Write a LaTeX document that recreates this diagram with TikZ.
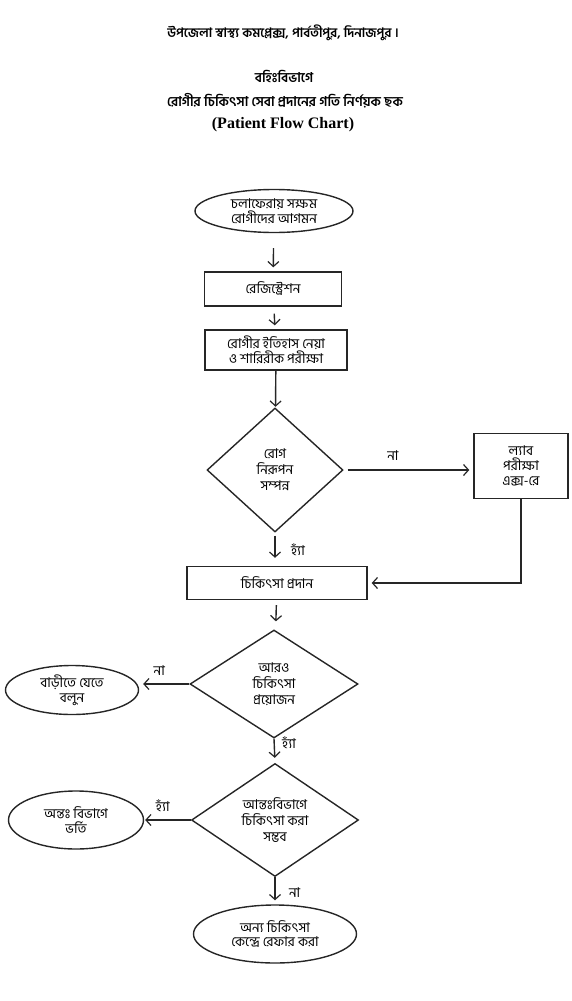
\documentclass[tikz,border=0pt]{standalone}
\usepackage{fontspec}
\setmainfont{Liberation Serif}
\newfontfamily\bn[Script=Bengali]{Hind Siliguri}
\usetikzlibrary{shapes.geometric,arrows.meta}

\tikzset{
    line/.style={line width=1.4pt, draw=black!85},
    arr/.style={line, -{Straight Barb[length=5pt, width=11pt, line width=1.2pt]}, shorten >=4pt},
    term/.style={ellipse, line, inner sep=0pt, align=center, font=\bn\fontsize{13.5}{14.5}\selectfont},
    stepbox/.style={rectangle, line, inner sep=0pt, align=center, font=\bn\fontsize{13.5}{15}\selectfont},
    decide/.style={diamond, line, inner sep=0pt, align=center, font=\bn\fontsize{13.5}{16}\selectfont},
    lbl/.style={font=\bn\fontsize{13.5}{14.5}\selectfont},
}

\begin{document}
\begin{tikzpicture}[x=1pt, y=-1pt]

    \useasboundingbox (0,0) rectangle (571,1001);

    %% Heading
    \node[font=\bn\bfseries\fontsize{13}{15}\selectfont] (title) at (283,33) {উপজেলা স্বাস্থ্য কমপ্লেক্স, পার্বতীপুর, দিনাজপুর ।};
    \node[font=\bn\bfseries\fontsize{13.5}{15}\selectfont] (dept) at (284,76) {বহিঃবিভাগে};
    \node[font=\bn\bfseries\fontsize{13.5}{15}\selectfont] (subtitle) at (285,101) {রোগীর চিকিৎসা সেবা প্রদানের গতি নির্ণয়ক ছক};
    \node[font=\bfseries\fontsize{16}{18}\selectfont] (english) at (283,125) {(Patient Flow Chart)};

    %% Main column
    % Arrival
    \node[term, minimum width=158pt, minimum height=43pt] (arrival) at (274,211) {চলাফেরায় সক্ষম\\রোগীদের আগমন};

    % Registration
    \node[stepbox, minimum width=137pt, minimum height=34pt] (reg) at (273,289) {রেজিস্ট্রেশন};

    % History and examination
    \node[stepbox, minimum width=142pt, minimum height=40pt] (history) at (276,350) {রোগীর ইতিহাস নেয়া\\ও শারিরীক পরীক্ষা};

    % Diagnosis done?
    \node[decide, minimum width=136pt, minimum height=124pt] (diag) at (275,470) {রোগ\\নিরূপন\\সম্পন্ন};

    % Lab tests
    \node[stepbox, minimum width=94pt, minimum height=65pt] (lab) at (521,466) {ল্যাব\\পরীক্ষা\\এক্স-রে};

    % Treatment
    \node[stepbox, minimum width=180pt, minimum height=33pt] (treat) at (277,583) {চিকিৎসা প্রদান};

    % More treatment needed?
    \node[decide, minimum width=168pt, minimum height=108pt] (more) at (274,684) {আরও\\চিকিৎসা\\প্রয়োজন};

    % Go home
    \node[term, minimum width=133pt, minimum height=49pt] (home) at (72,690) {বাড়ীতে যেতে\\বলুন};

    % Indoor treatment possible?
    \node[decide, minimum width=167pt, minimum height=113pt] (indoor) at (275,820) {আন্তঃবিভাগে\\চিকিৎসা করা\\সম্ভব};

    % Admission
    \node[term, minimum width=135pt, minimum height=58pt] (admit) at (76,820) {অন্তঃ বিভাগে\\ভর্তি};

    % Referral
    \node[term, minimum width=163pt, minimum height=58pt] (refer) at (275,934) {অন্য চিকিৎসা\\কেন্দ্রে রেফার করা};

    %% Connectors
    \draw[arr, shorten <=15pt] (arrival) -- (reg);
    \draw[arr, shorten <=7pt] (reg) -- (history);
    \draw[arr, shorten >=1pt] (history) -- (diag);
    \draw[arr, shorten <=4pt] (diag.east) -- (diag.east -| lab.west) node[lbl, pos=0.38, above=5pt] {না};
    \draw[arr, shorten <=3pt, shorten >=8pt] (diag.south) -- (diag.south |- treat.north) node[lbl, pos=0.5, right=12pt] {হ্যাঁ};
    \draw[arr] (lab.south) |- (treat.east);
    \draw[arr, shorten <=5pt, shorten >=9pt] (treat) -- (more);
    \draw[arr] (more.west) -- (more.west -| home.east) node[lbl, pos=0.6, above=4pt] {না};
    \draw[arr, shorten >=5pt] (more.south) -- (indoor.north) node[lbl, pos=0.15, right=4pt] {হ্যাঁ};
    \draw[arr, shorten >=1pt] (indoor.west) -- (admit.east) node[lbl, pos=0.6, above=4pt] {হ্যাঁ};
    \draw[arr] (indoor.south) -- (refer.north) node[lbl, pos=0.55, right=10pt] {না};

\end{tikzpicture}
\end{document}
